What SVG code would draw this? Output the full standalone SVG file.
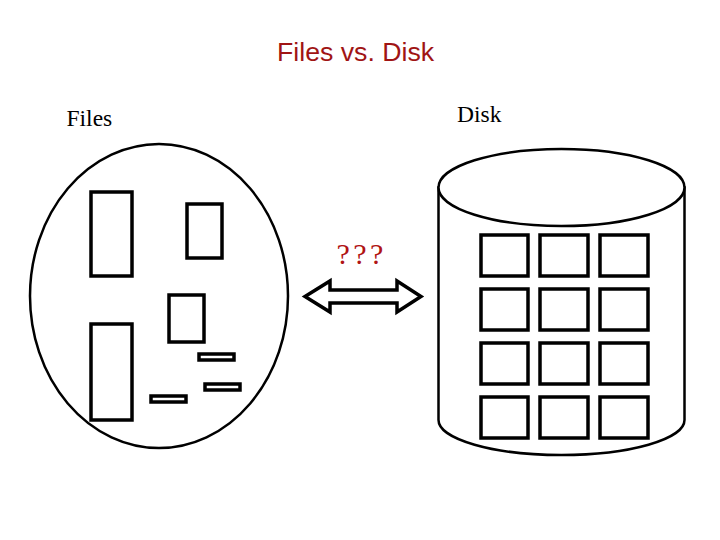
<svg xmlns="http://www.w3.org/2000/svg" width="720" height="540" viewBox="0 0 720 540">
<style>
.title{font-family:"Liberation Sans",Arial,sans-serif;font-size:26.7px;fill:#A01414}
.lbl{font-family:"Liberation Serif","Times New Roman",serif;font-size:23.5px;fill:#000}
.q{font-family:"Liberation Serif","Times New Roman",serif;font-size:30px;fill:#B01414;letter-spacing:3.4px}
.shape{fill:#fff;stroke:#000;stroke-width:2.5}
.blk{fill:none;stroke:#000;stroke-width:3.5}
.arrow{fill:#fff;stroke:#000;stroke-width:3.5;stroke-linejoin:miter}
</style>
<rect width="720" height="540" fill="#fff"/>
<text class="title" x="277" y="61">Files vs. Disk</text>
<g id="files">
  <text class="lbl" x="66.5" y="126">Files</text>
  <ellipse class="shape" cx="159" cy="296" rx="129" ry="152"/>
  <rect class="blk" x="91" y="192" width="41" height="84"/>
  <rect class="blk" x="187" y="204" width="35" height="54"/>
  <rect class="blk" x="169" y="295" width="35" height="47"/>
  <rect class="blk" x="91" y="324" width="41" height="96"/>
  <rect class="blk" x="199" y="354" width="35" height="6"/>
  <rect class="blk" x="205" y="384" width="35" height="6"/>
  <rect class="blk" x="151" y="396" width="35" height="6"/>
</g>
<g id="disk">
  <text class="lbl" x="457" y="122">Disk</text>
  <path class="shape" d="M438.5,187.5 L438.5,420 A123,35 0 0 0 684.5,420 L684.5,187.5 Z"/>
  <ellipse class="shape" cx="561.5" cy="187.5" rx="123" ry="38.5"/>
  <g class="blk">
    <rect x="481" y="235" width="47" height="41"/>
    <rect x="540" y="235" width="48" height="41"/>
    <rect x="600" y="235" width="48" height="41"/>
    <rect x="481" y="289" width="47" height="41"/>
    <rect x="540" y="289" width="48" height="41"/>
    <rect x="600" y="289" width="48" height="41"/>
    <rect x="481" y="343" width="47" height="41"/>
    <rect x="540" y="343" width="48" height="41"/>
    <rect x="600" y="343" width="48" height="41"/>
    <rect x="481" y="397" width="47" height="41"/>
    <rect x="540" y="397" width="48" height="41"/>
    <rect x="600" y="397" width="48" height="41"/>
  </g>
</g>
<g id="connectors">
  <polygon class="arrow" points="305,296.5 330,281 330,290 397,290 397,281 421,296.5 397,312 397,303 330,303 330,312"/>
  <text class="q" x="336.5" y="264">???</text>
</g>
</svg>
